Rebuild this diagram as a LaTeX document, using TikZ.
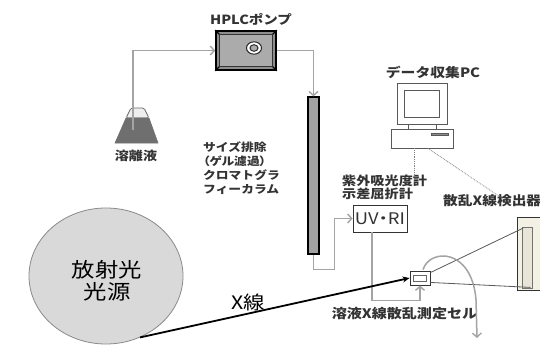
\documentclass[tikz,border=0pt]{standalone}
\usepackage{fontspec}
\newfontfamily\jp{Noto Sans CJK JP}[FakeStretch=1.15]
\usetikzlibrary{arrows.meta,calc,shapes.geometric}
\definecolor{tubegray}{HTML}{A4A4A4}
\definecolor{labelgray}{HTML}{333333}
\definecolor{pumpband}{HTML}{8E8E8E}
\definecolor{pumpface}{HTML}{ABABAB}
\definecolor{columnfill}{HTML}{A2A2A2}
\definecolor{flaskdark}{HTML}{6F6F6F}
\definecolor{flasklight}{HTML}{EEEEEE}
\definecolor{sourcefill}{HTML}{D9D9D9}
\definecolor{sourceedge}{HTML}{8A8A8A}
\definecolor{detfill}{HTML}{F2F1E4}
\definecolor{detface}{HTML}{E6E5D8}

\begin{document}
\begin{tikzpicture}[x=1pt,y=-1pt,
  tube/.style={draw=tubegray,line width=1.5pt},
  flow/.style={tube,-{Straight Barb[length=4pt,width=9pt,line width=1.4pt]}},
  lbl/.style={inner sep=0pt,text=labelgray,align=left},
  dotline/.style={draw=gray,densely dotted,line width=0.8pt},
  ray/.style={draw=black!65,line width=0.8pt},
  box/.style={draw=labelgray,fill=white,line width=0.9pt,inner sep=0pt},
  bevel/.style={black,line width=1.4pt},
]
\useasboundingbox (0,0) rectangle (540,345);
\clip (0,0) rectangle (540,345);
\fill[white] (0,0) rectangle (540,345);

% --- synchrotron source ---
\node[ellipse,draw=sourceedge,fill=sourcefill,line width=0.8pt,
      minimum width=154pt,minimum height=136pt,inner sep=0pt] (source) at (106,276) {};
\node[align=center,inner sep=0pt,font=\jp\fontsize{20.3}{22}\selectfont] (srclabel) at (107,281) {放射光\\光源};

% --- eluent flask ---
\draw[draw=black!60,fill=flasklight,line width=0.7pt,rounded corners=1.5pt]
  (131,108) -- (144,108) -- (149,118) -- (126,118) -- cycle;
\fill[flaskdark,draw=black!55,line width=0.6pt] (126,118) -- (149,118) -- (158,143) -- (115,143) -- cycle;
\coordinate (flaskmouth) at (133,130);
\node[lbl,font=\jp\bfseries\fontsize{12.2}{13}\selectfont] (eluent) at (136,156) {溶離液};

% --- HPLC pump ---
\node[draw=black,fill=pumpband,line width=1.6pt,minimum width=60pt,minimum height=39pt,inner sep=0pt] (pump) at (246,50.5) {};
\draw[fill=pumpface,draw=black!80,line width=0.8pt]
  ($(pump.north west)+(4,4)$) rectangle ($(pump.south east)+(-4,-4)$);
\draw[bevel] (pump.north west) -- ++(4,4);
\draw[bevel] (pump.north east) -- ++(-4,4);
\draw[bevel] (pump.south west) -- ++(4,-4);
\draw[bevel] (pump.south east) -- ++(-4,-4);
\draw[fill=white,draw=black!85,line width=1pt] (254,48) ellipse [x radius=7.5pt,y radius=6.2pt];
\draw[fill=pumpface,draw=black!85,line width=1pt] (254,48) ellipse [x radius=4pt,y radius=3.3pt];
\node[lbl,font=\jp\bfseries\fontsize{12.6}{13}\selectfont] (pumplabel) at (251,19) {HPLCポンプ};

% --- SEC column ---
\node[draw=black,fill=columnfill,line width=1.3pt,minimum width=11pt,minimum height=157pt,inner sep=0pt] (column) at (313.5,175.5) {};
\node[lbl,font=\jp\bfseries\fontsize{11.1}{14}\selectfont,anchor=west] (collabel) at (203,168.5)
  {サイズ排除\\{\addfontfeature{RawFeature=+palt}（ゲル濾過）}\\クロマトグラ\\フィーカラム};

% --- UV / RI detector ---
\node[box,minimum width=54pt,minimum height=27pt,
      font=\jp\addfontfeature{RawFeature=+palt}\fontsize{16}{16}\selectfont,text=labelgray] (uv) at (380,218.5) {UV・RI};
\node[lbl,font=\jp\bfseries\fontsize{12.3}{12.7}\selectfont,anchor=west] (uvlabel) at (342,187.5) {紫外吸光度計\\示差屈折計};

% --- sample cell ---
\node[box,minimum width=20pt,minimum height=14pt] (cell) at (420,278) {};
\draw[draw=black!60,line width=0.7pt] (413.5,275) rectangle (426.5,281);
\node[lbl,font=\jp\bfseries\fontsize{13.1}{14}\selectfont] (celllabel) at (404.5,313.5) {溶液X線散乱測定セル};

% --- data PC ---
\node[draw=black!65,fill=white,line width=0.8pt,minimum width=50pt,minimum height=41pt,inner sep=0pt] (monitor) at (422,103.5) {};
\node[draw=black!65,line width=0.8pt,minimum width=35pt,minimum height=27pt,inner sep=0pt] (screen) at (421.5,103.5) {};
\node[draw=black!65,fill=white,line width=0.8pt,minimum width=28pt,minimum height=5pt,inner sep=0pt] (stand) at (422,126.5) {};
\node[draw=black!65,fill=white,line width=0.8pt,minimum width=62pt,minimum height=19pt,inner sep=0pt] (base) at (422,138.5) {};
\draw[fill=black!45,draw=black!65,line width=0.5pt] (431,133) rectangle (448,135.5);
\node[lbl,font=\jp\bfseries\fontsize{12.9}{13}\selectfont] (pclabel) at (433,72) {データ収集PC};

% --- scattered X-ray detector ---
\node[draw=black!80,fill=detfill,line width=1pt,minimum width=43pt,minimum height=73pt,inner sep=0pt] (det) at (538.5,253.5) {};
\node[draw=black!55,fill=detface,line width=0.8pt,minimum width=10pt,minimum height=61pt,inner sep=0pt] (detface) at (527,257.5) {};
\node[lbl,font=\jp\bfseries\fontsize{12.8}{13}\selectfont,anchor=west] (detlabel) at (443,201) {散乱X線検出器};

% --- liquid flow ---
\draw[flow] (flaskmouth) |- (pump.west);
\draw[flow] (pump.east) -| (column.north);
\draw[flow] (column.south) -- ++(0,15) -| ($(uv.west)+(-18,0)$) -- (uv.west);
\draw[flow] ($(uv.south west)!0.35!(uv.south east)$) |- ($(cell.south)+(0,15)$) -- (cell.south);

% --- signal lines ---
\coordinate (uvtag) at (414,177);
\coordinate (dettag) at (503,199);
\draw[dotline] ($(base.south)+(-8,0)$) -- (uvtag);
\draw[dotline] ($(base.south)+(6,0)$) -- (dettag);

% --- X-rays ---
\draw[ray] ($(cell.north east)+(0,2)$) -- ($(detface.north west)+(1.5,1.5)$);
\draw[ray] ($(cell.south east)+(0,-3)$) -- ($(detface.south east)+(-2,-1)$);
\draw[black,line width=1.8pt,-{Stealth[length=7pt,width=6pt]}] (source.-61) -- (cell.west);
\node[inner sep=0pt,font=\jp\fontsize{18.5}{19}\selectfont] (xlabel) at (248.5,302) {X線};

% --- outlet ---
\draw[flow] ($(cell.north)+(3,-1)$) .. controls (430,248) and (472,248) .. (476,300) -- (477,338);
\end{tikzpicture}
\end{document}
